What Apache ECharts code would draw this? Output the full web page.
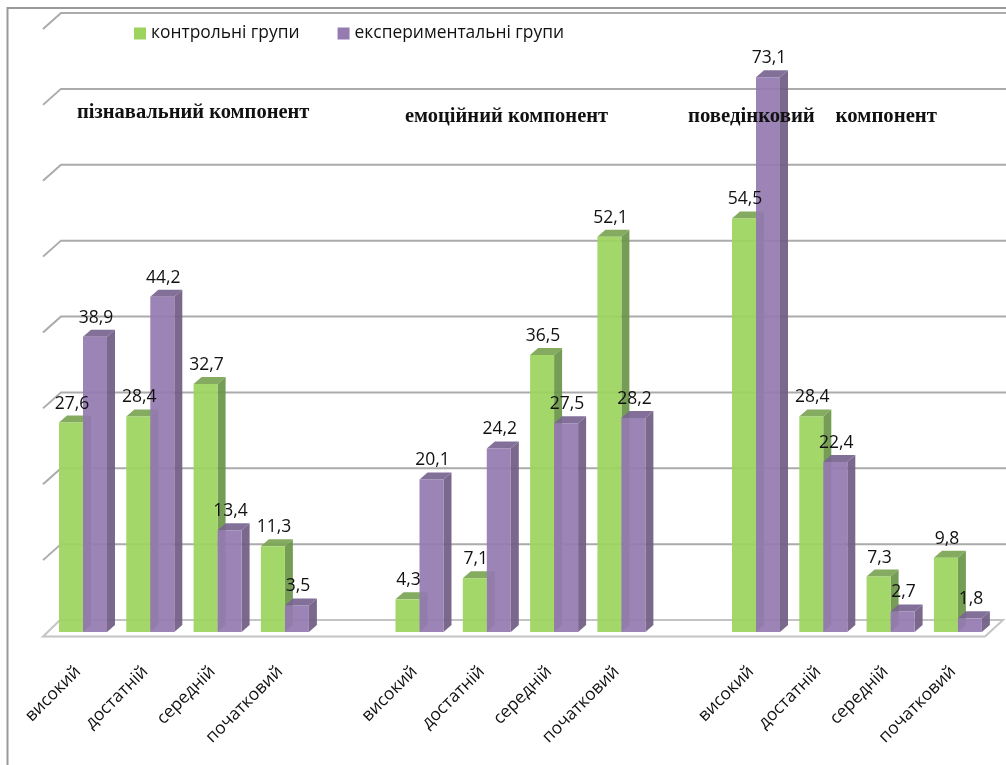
<!DOCTYPE html>
<html><head><meta charset="utf-8">
<style>html,body{margin:0;padding:0;background:#fff}#c{width:1006px;height:765px}</style>
<script src="https://cdn.jsdelivr.net/npm/echarts@6/dist/echarts.min.js"></script>
</head><body><div id="c"></div>
<script>
const categories = ['високий','достатній','середній','початковий','','високий','достатній','середній','початковий','','високий','достатній','середній','початковий'];
const controlValues = [27.6,28.4,32.7,11.3,null,4.3,7.1,36.5,52.1,null,54.5,28.4,7.3,9.8];
const experimentalValues = [38.9,44.2,13.4,3.5,null,20.1,24.2,27.5,28.2,null,73.1,22.4,2.7,1.8];
const gridValues = [0,10,20,30,40,50,60,70,80];
const seriesNames = ['контрольні групи','експериментальні групи'];
const sectionTitles = ['пізнавальний компонент','емоційний компонент','поведінковий    компонент'];

const FONT = '"Open Sans", sans-serif';
const BAR = 24, DX = 8, DY = 7;

function barRenderer(side, front, dark, top) {
  return function (params, api) {
    const v = api.value(1);
    if (v == null || isNaN(v)) return;
    const p = api.coord([api.value(0), v]);
    const b = api.coord([api.value(0), 0]);
    const x0 = side === 0 ? p[0] - BAR : p[0];
    const x1 = x0 + BAR, yt = p[1], yb = b[1];
    return { type: 'group', children: [
      { type: 'polygon', shape: { points: [[x1,yt],[x1+DX,yt-DY],[x1+DX,yb-DY],[x1,yb]] }, style: { fill: dark, opacity: 0.93 } },
      { type: 'polygon', shape: { points: [[x0,yt],[x0+DX,yt-DY],[x1+DX,yt-DY],[x1,yt]] }, style: { fill: top, opacity: 0.93 } },
      { type: 'rect', shape: { x: x0, y: yt, width: BAR, height: yb - yt }, style: { fill: front, opacity: 0.93 } },
      { type: 'text', z2: 100, style: { x: x0 + BAR/2 + 1, y: yt - 19, text: v.toFixed(1).replace('.', ','), fill: '#111', font: '17.5px ' + FONT, align: 'center', verticalAlign: 'middle' } }
    ]};
  };
}

const option = {
  animation: false,
  backgroundColor: '#fff',
  grid: { left: 49.35, width: 942.2, top: 25, height: 607 },
  xAxis: { type: 'category', data: categories, axisLine: {show:false}, axisTick: {show:false},
    axisLabel: { interval: 0, rotate: 45, margin: 32, padding: [0,7,0,0], fontFamily: FONT, fontSize: 17.3, color: '#111' } },
  yAxis: { type: 'value', min: 0, max: 80, interval: 10, axisLine:{show:false}, axisTick:{show:false}, axisLabel:{show:false}, splitLine:{show:false} },
  legend: { data: [{name: seriesNames[0], icon:'rect'},{name: seriesNames[1], icon:'rect'}], left: 129, top: 20, itemWidth: 12, itemHeight: 12, itemGap: 38,
    textStyle: { fontFamily: FONT, fontSize: 17.4, color: '#111' }, selectedMode: false },
  title: [
    { text: sectionTitles[0], left: 77, top: 102, size: 20.5 },
    { text: sectionTitles[1], left: 405, top: 106, size: 20.5 },
    { text: sectionTitles[2], left: 688, top: 106, size: 20.75 }
  ].map(t => Object.assign(t, { z: 10, padding: 0, textStyle: { fontFamily: '"Liberation Serif", serif', fontWeight: 'bold', fontSize: t.size, color: '#111' } })),
  graphic: [{ type: 'polyline', z: 0, shape: { points: [[1010,8],[7.5,8],[7.5,770]] }, style: { stroke: '#9a9a9a', lineWidth: 2, fill: null } }],
  series: [
    { type: 'custom', name: 'wall', silent: true, z: 0, clip: false, data: gridValues.map(v => [0, v]),
      renderItem(params, api) {
        const y = api.coord([0, api.value(1)])[1] - 12;
        const isFloor = api.value(1) === 0;
        const ch = [];
        if (isFloor) {
          ch.push({ type: 'polygon', shape: { points: [[60,y],[1003,y],[985,y+16.5],[43,y+16.5]] }, style: { fill: '#fff', stroke: '#c4c4c4', lineWidth: 2 } });
        } else {
          ch.push({ type: 'polyline', shape: { points: [[43,y+16],[61,y],[1006,y]] }, style: { stroke: '#ababab', lineWidth: 2, fill: null } });
        }
        return { type: 'group', children: ch };
      }
    },
    { type: 'custom', name: seriesNames[0], z: 3, clip: false, itemStyle: { color: '#9CD45F' },
      data: controlValues.map((v, i) => [i, v]), renderItem: barRenderer(0, '#9CD45F', '#6B9648', '#7BA553') },
    { type: 'custom', name: seriesNames[1], z: 3, clip: false, itemStyle: { color: '#957BB0' },
      data: experimentalValues.map((v, i) => [i, v]), renderItem: barRenderer(1, '#957BB0', '#715E84', '#7A6591') }
  ]
};
echarts.init(document.getElementById('c')).setOption(option);
</script></body></html>
